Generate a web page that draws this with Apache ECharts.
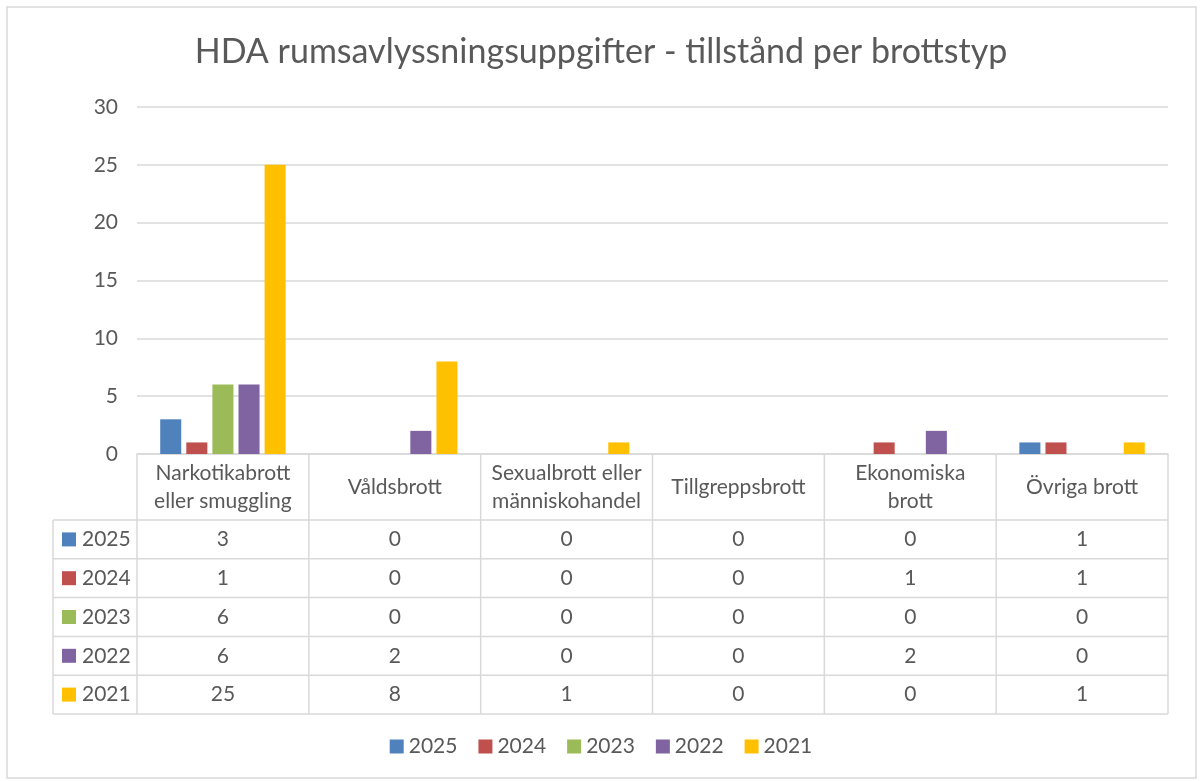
<!DOCTYPE html>
<html>
<head>
<meta charset="utf-8">
<script src="https://cdn.jsdelivr.net/npm/echarts@6/dist/echarts.min.js"></script>
<style>
html, body { margin: 0; padding: 0; background: #fff; }
#chart { width: 1202px; height: 781px; }
</style>
</head>
<body>
<div id="chart"></div>
<script>
// Crime categories (two-line labels use \n)
const categories = [
  'Narkotikabrott\neller smuggling',
  'Våldsbrott',
  'Sexualbrott eller\nmänniskohandel',
  'Tillgreppsbrott',
  'Ekonomiska\nbrott',
  'Övriga brott'
];
const years = ['2025', '2024', '2023', '2022', '2021'];
const colors = ['#4F81BD', '#C0504D', '#9BBB59', '#8064A2', '#FFC000'];

const values2025 = [3, 0, 0, 0, 0, 1];
const values2024 = [1, 0, 0, 0, 1, 1];
const values2023 = [6, 0, 0, 0, 0, 0];
const values2022 = [6, 2, 0, 0, 2, 0];
const values2021 = [25, 8, 1, 0, 0, 1];
const seriesValues = [values2025, values2024, values2023, values2022, values2021];

const yTicks = [0, 5, 10, 15, 20, 25, 30];

const FONT = 'Lato, "Open Sans", sans-serif';
const FS = 21;
const TEXT = '#595959';
const LINE = '#D9D9D9';

const G = { left: 137, right: 34, top: 107, bottom: 327 };

const chart = echarts.init(document.getElementById('chart'));

chart.setOption({
  animation: false,
  color: colors,
  title: {
    text: 'HDA rumsavlyssningsuppgifter - tillstånd per brottstyp',
    left: 'center',
    top: 30,
    textStyle: { fontFamily: FONT, fontSize: 34, fontWeight: 'normal', color: TEXT }
  },
  legend: {
    bottom: 19,
    left: 'center',
    icon: 'rect',
    itemWidth: 14,
    itemHeight: 14,
    itemGap: 21,
    textStyle: { fontFamily: FONT, fontSize: FS, color: TEXT },
    data: years
  },
  grid: G,
  xAxis: {
    type: 'category',
    data: categories,
    axisLine: { lineStyle: { color: LINE, width: 1.5 } },
    axisTick: { show: false },
    axisLabel: { show: false }
  },
  yAxis: {
    type: 'value',
    min: yTicks[0],
    max: yTicks[yTicks.length - 1],
    interval: 5,
    axisLine: { show: false },
    axisTick: { show: false },
    axisLabel: { fontFamily: FONT, fontSize: FS, color: TEXT, margin: 19 },
    splitLine: { lineStyle: { color: LINE, width: 1.5 } }
  },
  series: years.map((y, i) => ({
    name: y,
    type: 'bar',
    data: seriesValues[i],
    barGap: '24%',
    barCategoryGap: '27%'
  }))
});

// Data table below the plot, laid out on the category axis
function buildTable() {
  const n = categories.length;
  const x0 = chart.convertToPixel({ xAxisIndex: 0 }, 0);
  const x1 = chart.convertToPixel({ xAxisIndex: 0 }, 1);
  const colW = x1 - x0;
  const left = x0 - colW / 2;
  const right = left + colW * n;
  const axisY = chart.convertToPixel({ yAxisIndex: 0 }, 0);
  const headerBottom = axisY + 66;
  const rowH = 38.8;
  const keyLeft = 53;
  const tableBottom = headerBottom + rowH * years.length;
  const els = [];
  const ls = { stroke: LINE, lineWidth: 1.5 };

  // outer frame
  els.push({ type: 'rect', shape: { x: 7, y: 7, width: 1189, height: 771 },
    style: { fill: null, stroke: LINE, lineWidth: 1.5 }, silent: true });

  // vertical lines
  for (let c = 0; c <= n; c++) {
    const x = left + colW * c;
    els.push({ type: 'line', shape: { x1: x, y1: axisY, x2: x, y2: tableBottom }, style: ls });
  }
  els.push({ type: 'line', shape: { x1: keyLeft, y1: headerBottom, x2: keyLeft, y2: tableBottom }, style: ls });
  // horizontal lines
  for (let r = 0; r <= years.length; r++) {
    const y = headerBottom + rowH * r;
    els.push({ type: 'line', shape: { x1: keyLeft, y1: y, x2: right, y2: y }, style: ls });
  }
  // header labels
  categories.forEach((c, i) => {
    els.push({ type: 'text', x: left + colW * (i + 0.5), y: (axisY + headerBottom) / 2,
      style: { text: c, fontFamily: FONT, fontSize: FS, fill: TEXT, align: 'center',
        verticalAlign: 'middle', lineHeight: 28 } });
  });
  // rows
  years.forEach((yr, r) => {
    const cy = headerBottom + rowH * (r + 0.5);
    els.push({ type: 'rect', shape: { x: 62, y: cy - 7, width: 14, height: 14 },
      style: { fill: colors[r] } });
    els.push({ type: 'text', x: 82, y: cy, style: { text: yr, fontFamily: FONT, fontSize: FS,
      fill: TEXT, align: 'left', verticalAlign: 'middle' } });
    seriesValues[r].forEach((v, i) => {
      els.push({ type: 'text', x: left + colW * (i + 0.5), y: cy,
        style: { text: String(v), fontFamily: FONT, fontSize: FS, fill: TEXT,
          align: 'center', verticalAlign: 'middle' } });
    });
  });
  chart.setOption({ graphic: { elements: els } });
}
buildTable();
</script>
</body>
</html>
